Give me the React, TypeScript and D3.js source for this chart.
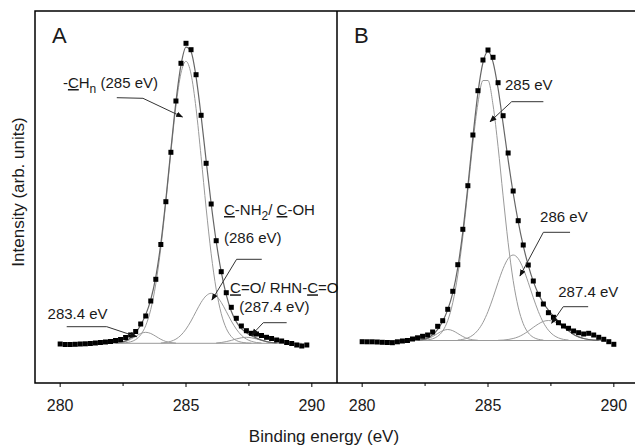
import React from 'react';
import * as d3 from 'd3';

// ---------- data ----------
const ENERGY = [280.0, 280.2, 280.4, 280.6, 280.8, 281.0, 281.2, 281.4, 281.6, 281.8, 282.0, 282.2, 282.4, 282.6, 282.8, 283.0, 283.2, 283.4, 283.6, 283.8, 284.0, 284.2, 284.4, 284.6, 284.8, 285.0, 285.2, 285.4, 285.6, 285.8, 286.0, 286.2, 286.4, 286.6, 286.8, 287.0, 287.2, 287.4, 287.6, 287.8, 288.0, 288.2, 288.4, 288.6, 288.8, 289.0, 289.2, 289.4, 289.6, 289.8, 290.0];

const INTENSITY_A = [39, 38.5, 38.5, 38.7, 39, 39.2, 39.5, 40, 40.5, 41, 41.5, 42.5, 43.5, 45.5, 48, 51.5, 59, 67, 82, 103.7, 138.5, 181.3, 230.7, 282, 319.7, 339.7, 333.3, 308.3, 267.7, 219.7, 179, 142.3, 111.3, 90.3, 75.7, 64.7, 57, 52.3, 49.7, 49, 47.5, 45.7, 44.5, 43, 42, 40.5, 39.5, 38, 37, 38];
const INTENSITY_B = [41.3, 41.2, 41.2, 41, 40.7, 40.5, 40.3, 41.2, 42, 42.5, 44, 45.2, 46.7, 48, 51, 56.7, 62.3, 73.7, 91.7, 118.3, 153.7, 197.3, 248, 292.3, 323, 333, 325.7, 300.3, 267.3, 230, 192, 162.3, 138, 118, 102, 88.7, 79, 70.3, 65.7, 60.3, 57, 54.7, 52, 50.3, 49, 49.7, 48, 45.7, 43.7, 41.3, 38.7];

// fitted components (start = index in ENERGY)
const A_MAIN = { start: 12, values: [39.9, 40.3, 41.2, 43.4, 48.2, 57.4, 73.6, 99.1, 135.3, 180.9, 230.9, 276.9, 309.8, 321.7, 309.0, 274.4, 226.2, 174.9, 129.2, 93.7, 69.4, 54.6, 46.5, 42.5, 40.8, 40.1, 39.8] };
const A_C286 = { start: 20, values: [40.0, 40.5, 41.7, 43.9, 47.8, 53.9, 62.0, 71.5, 80.6, 87.2, 89.7, 87.2, 80.6, 71.5, 62.0, 53.9, 47.8, 43.9, 41.7, 40.5, 40.0] };
const A_C283 = { start: 11, values: [39.9, 40.4, 41.5, 43.7, 46.7, 49.5, 50.7, 49.5, 46.7, 43.7, 41.5, 40.4, 39.9] };
const A_C287 = { start: 31, values: [40.0, 40.5, 41.4, 42.6, 44.1, 45.2, 45.7, 45.2, 44.1, 42.6, 41.4, 40.5, 40.0] };
const A_SUM = { start: 11, values: [40.0, 40.6, 42.1, 45.2, 50.4, 58.0, 68.4, 83.4, 106.2, 139.6, 183.5, 233.6, 281.3, 317.9, 335.9, 331.3, 306.2, 267.1, 222.4, 179.2, 141.5, 111.1, 88.1, 71.7, 61.1, 54.4, 50.3, 47.3, 44.9, 42.9, 41.4, 40.5, 40.0] };
const A_BASELINE = 39.7;

const B_MAIN = { start: 12, values: [42.7, 43.1, 44.2, 46.7, 52.0, 62.4, 80.3, 108.1, 146.3, 192.3, 239.9, 279.7, 302.5, 302.5, 278.1, 236.3, 187.1, 140.3, 102.5, 75.9, 59.3, 50.2, 45.7, 43.7, 42.9] };
const B_C286 = { start: 19, values: [43.0, 43.6, 45.1, 47.9, 52.8, 60.5, 71.5, 85.3, 100.5, 114.4, 124.4, 128.0, 124.4, 114.4, 100.5, 85.3, 71.5, 60.5, 52.8, 47.9, 45.1, 43.6, 43.0] };
const B_C283 = { start: 11, values: [42.7, 43.15, 44.3, 46.5, 49.5, 52.3, 53.5, 52.3, 49.5, 46.5, 44.3, 43.15, 42.7] };
const B_C287 = { start: 27, values: [42.7, 42.9, 43.5, 44.5, 46.1, 48.6, 51.9, 55.6, 59.0, 61.6, 62.5, 61.6, 59.0, 55.6, 51.9, 48.6, 46.1, 44.5, 43.5, 42.9, 42.7] };
const B_SUM = { start: 11, values: [42.8, 43.4, 44.9, 48.2, 53.7, 61.8, 73.4, 90.1, 115.6, 151.4, 196.7, 246.0, 290.2, 320.5, 331.5, 320.9, 294.5, 259.4, 223.2, 190.0, 161.4, 137.3, 117.6, 101.6, 89.2, 80.0, 72.8, 67.0, 61.6, 56.7, 52.4, 48.6, 46.1, 44.5, 43.5, 42.9, 42.7] };
const B_BASELINE = 42.5;
const BASELINE_SPAN = [281.0, 289.6];

const TICKS_MAJOR = [280, 285, 290];
const TICKS_MINOR = [282.5, 287.5];
const X_DOMAIN = [279, 291];
const Y_DOMAIN = [0, 372];

// annotations in data coordinates [eV, intensity]
type Ann = { lines: { x: number; y: number; parts: { t: string; u?: boolean; sub?: boolean }[] }[]; leader: [number, number][] };
const ANN_A: Ann[] = [
  { lines: [{ x: 280.11, y: 295, parts: [{ t: '-' }, { t: 'C', u: true }, { t: 'H' }, { t: 'n', sub: true }, { t: ' (285 eV)' }] }], leader: [[282.25, 285.3], [283.29, 284.7], [284.86, 266]] },
  { lines: [{ x: 286.51, y: 168, parts: [{ t: 'C', u: true }, { t: '-NH' }, { t: '2', sub: true }, { t: '/ ' }, { t: 'C', u: true }, { t: '-OH' }] }, { x: 286.51, y: 139.7, parts: [{ t: '(286 eV)' }] }], leader: [[288.01, 123.7], [287.01, 123.7], [286.03, 83]] },
  { lines: [{ x: 286.75, y: 89.7, parts: [{ t: 'C', u: true }, { t: '=O/ RHN-' }, { t: 'C', u: true }, { t: '=O' }] }, { x: 287.12, y: 71.3, parts: [{ t: '(287.4 eV)' }] }], leader: [[289.0, 60.3], [288.07, 60.3], [287.61, 48]] },
  { lines: [{ x: 279.5, y: 63.7, parts: [{ t: '283.4 eV' }] }], leader: [[280.26, 56.3], [281.85, 56.3], [283.04, 46.3]] },
];
const ANN_B: Ann[] = [
  { lines: [{ x: 285.675, y: 293, parts: [{ t: '285 eV' }] }], leader: [[287.2, 281.3], [285.94, 281.3], [285.08, 261.3]] },
  { lines: [{ x: 287.07, y: 161.3, parts: [{ t: '286 eV' }] }], leader: [[288.26, 150.7], [287.2, 150.7], [286.27, 107]] },
  { lines: [{ x: 287.79, y: 86.3, parts: [{ t: '287.4 eV' }] }], leader: [[288.98, 76.3], [287.99, 76.3], [287.53, 59.7]] },
];

const FONT = '"Liberation Sans", Arial, Helvetica, sans-serif';
const TEXT = '#1a1a1a';

type Comp = { start: number; values: number[] };

function Panel(props: {
  id: string; left: number; right: number; top: number; bottom: number;
  data: number[]; comps: Comp[]; sum: Comp; baseline: number; anns: Ann[]; letter: string;
}) {
  const { id, left, right, top, bottom, data, comps, sum, baseline, anns, letter } = props;
  const x = d3.scaleLinear().domain(X_DOMAIN).range([left, right]);
  const y = d3.scaleLinear().domain(Y_DOMAIN).range([bottom, top]);
  const line = d3.line<[number, number]>().x(d => x(d[0])).y(d => y(d[1])).curve(d3.curveMonotoneX);
  const pts = (c: Comp) => c.values.map((v, i) => [ENERGY[c.start + i], v] as [number, number]);
  const sq = 5;
  return (
    <g>
      <path d={line([[BASELINE_SPAN[0], baseline], [BASELINE_SPAN[1], baseline]]) || ''} fill="none" stroke="#9a9a9a" strokeWidth={1} />
      {comps.map((c, i) => (
        <path key={i} d={line(pts(c)) || ''} fill="none" stroke="#9a9a9a" strokeWidth={1} />
      ))}
      <path d={line(pts(sum)) || ''} fill="none" stroke="#666" strokeWidth={1.2} />
      {data.map((v, i) => (
        <rect key={i} x={x(ENERGY[i]) - sq / 2} y={y(v) - sq / 2} width={sq} height={sq} fill="#000" />
      ))}
      {anns.map((a, i) => (
        <g key={i}>
          <path d={d3.line()(a.leader.map(p => [x(p[0]), y(p[1])] as [number, number])) || ''} fill="none" stroke="#333" strokeWidth={1} markerEnd={`url(#arrow${id})`} />
          {a.lines.map((l, j) => (
            <text key={j} x={x(l.x)} y={y(l.y)} fontFamily={FONT} fontSize={15} fill={TEXT}>
              {l.parts.map((p, k) => {
                const prevSub = k > 0 && l.parts[k - 1].sub;
                const dy = p.sub ? 5 : prevSub ? -5 : 0;
                return (
                  <tspan key={k} dy={dy} fontSize={p.sub ? 12 : 15} style={p.u ? { textDecoration: 'underline' } : undefined}>{p.t}</tspan>
                );
              })}
            </text>
          ))}
        </g>
      ))}
      {TICKS_MAJOR.map(t => (
        <g key={t}>
          <line x1={x(t)} x2={x(t)} y1={bottom} y2={bottom + 4} stroke="#000" strokeWidth={1} />
          <text x={x(t)} y={bottom + 28} textAnchor="middle" fontFamily={FONT} fontSize={16} fill={TEXT}>{t}</text>
        </g>
      ))}
      {TICKS_MINOR.map(t => (
        <line key={t} x1={x(t)} x2={x(t)} y1={bottom} y2={bottom + 3} stroke="#000" strokeWidth={1} />
      ))}
      <text x={left + 17} y={top + 32} fontFamily={FONT} fontSize={22} fill={TEXT}>{letter}</text>
    </g>
  );
}

export default function App() {
  const top = 11, bottom = 383, l1 = 35, mid = 337, r2 = 639;
  return (
    <svg width={635} height={446} style={{ position: 'absolute', left: 0, top: 0, background: '#fff' }}>
      <defs>
        {['A', 'B'].map(k => (
          <marker key={k} id={`arrow${k}`} viewBox="0 0 10 10" refX={9} refY={5} markerWidth={7} markerHeight={7} markerUnits="userSpaceOnUse" orient="auto">
            <path d="M0,1 L10,5 L0,9 Z" fill="#111" />
          </marker>
        ))}
      </defs>
      <rect x={0} y={0} width={635} height={446} fill="#fff" />
      <Panel id="A" left={l1} right={mid} top={top} bottom={bottom} data={INTENSITY_A} comps={[A_MAIN, A_C286, A_C283, A_C287]} sum={A_SUM} baseline={A_BASELINE} anns={ANN_A} letter="A" />
      <Panel id="B" left={mid} right={r2} top={top} bottom={bottom} data={INTENSITY_B} comps={[B_MAIN, B_C286, B_C283, B_C287]} sum={B_SUM} baseline={B_BASELINE} anns={ANN_B} letter="B" />
      <path d={`M${l1},${top} L${r2},${top} L${r2},${bottom} L${l1},${bottom} Z M${mid},${top} L${mid},${bottom}`} fill="none" stroke="#000" strokeWidth={1.5} />
      <text x={324} y={442} textAnchor="middle" fontFamily={FONT} fontSize={17} fill={TEXT}>Binding energy (eV)</text>
      <text transform="translate(24,192) rotate(-90)" textAnchor="middle" fontFamily={FONT} fontSize={17} fill={TEXT}>Intensity (arb. units)</text>
    </svg>
  );
}
